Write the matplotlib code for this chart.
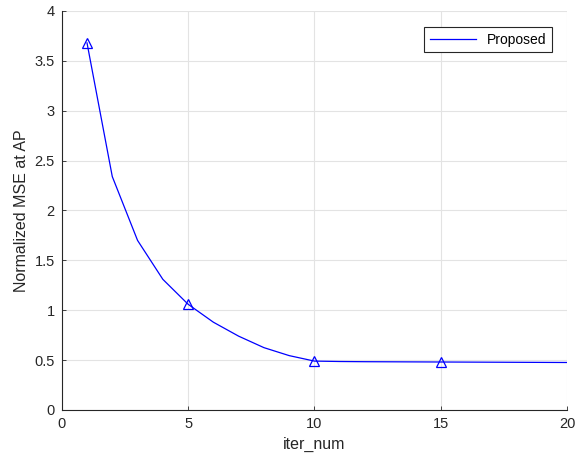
import matplotlib
matplotlib.use("Agg")
import matplotlib.pyplot as plt
import numpy as np

plt.rcParams.update({
    "font.family": ["Liberation Sans", "DejaVu Sans"],
    "font.size": 10,
    "axes.edgecolor": "#262626",
    "xtick.color": "#262626",
    "ytick.color": "#262626",
})

iter_num = np.arange(1, 21)
mse = [3.68, 2.34, 1.70, 1.31, 1.06, 0.88, 0.74, 0.625, 0.545, 0.49,
       0.486, 0.484, 0.483, 0.482, 0.481, 0.480, 0.479, 0.478, 0.477, 0.476]
marker_idx = [0, 4, 9, 14]

fig = plt.figure(figsize=(5.77, 4.62), dpi=100)
ax = fig.add_axes([0.107, 0.1126, 0.876, 0.8636])

ax.plot(iter_num, mse, color="#0000ff", lw=0.9, label="Proposed")
ax.plot(iter_num[marker_idx], [mse[i] for i in marker_idx], ls="none",
        marker="^", ms=7, mfc="none", mec="#0000ff", mew=0.9)

ax.set_xlim(0, 20)
ax.set_ylim(0, 4)
ax.set_xticks([0, 5, 10, 15, 20])
ax.set_yticks(np.arange(0, 4.01, 0.5))
ax.set_yticklabels(["0", "0.5", "1", "1.5", "2", "2.5", "3", "3.5", "4"])
ax.tick_params(direction="in", length=3, width=0.6, labelsize=10.5, pad=5)
ax.grid(True, color="#e3e3e3", lw=0.8)
ax.set_axisbelow(True)
for side in ["top", "right"]:
    ax.spines[side].set_visible(False)
for side in ["left", "bottom"]:
    ax.spines[side].set_linewidth(0.8)

ax.set_xlabel("iter_num", fontsize=11.5, color="#262626")
ax.set_ylabel("Normalized MSE at AP", fontsize=11.5, color="#262626")

leg = ax.legend(loc="upper right", bbox_to_anchor=(0.970, 0.96),
                fancybox=False, edgecolor="#262626", framealpha=1,
                handlelength=3.3, borderaxespad=0, fontsize=10)
leg.get_frame().set_linewidth(0.8)

fig.savefig("out.png", dpi=100)
